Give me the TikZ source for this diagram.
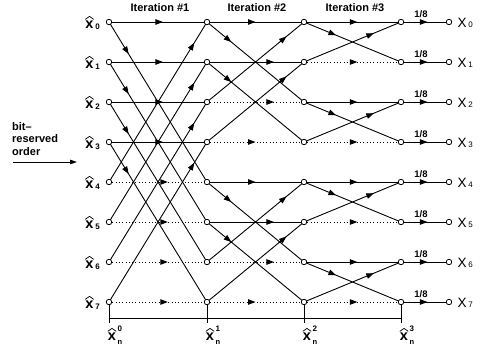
\documentclass[tikz,border=0pt]{standalone}
\usepackage{fontspec}
\setmainfont{Liberation Sans}
\setsansfont{Liberation Sans}
\usetikzlibrary{arrows.meta,decorations.markings}
\begin{document}
\begin{tikzpicture}[x=1pt,y=-1pt,
  pt/.style={circle,draw,fill=white,inner sep=0pt,minimum size=5.5pt,line width=0.8pt},
  wire/.style={line width=0.9pt},
  dwire/.style={line width=0.9pt,dash pattern=on 0.9pt off 2.4pt},
  arr/.style={postaction={decorate,decoration={markings,mark=at position #1 with {\arrow{Triangle[length=7.5pt,width=5.5pt]}}}}},
  lbl/.style={font=\bfseries\fontsize{11}{12.5}\selectfont,inner sep=0pt},
  frac/.style={font=\bfseries\fontsize{9.5}{11}\selectfont,inner sep=0pt},
  xl/.style={font=\bfseries\fontsize{14.5}{16}\selectfont,inner sep=0pt},
  sl/.style={font=\bfseries\fontsize{8}{9}\selectfont,inner sep=0pt},
  outl/.style={font=\fontsize{13.5}{16}\selectfont,inner sep=0pt},
  hat/.style={line width=0.7pt}
]
\useasboundingbox (0,0) rectangle (485,351);
% positions
\foreach \c/\x in {0/109,1/207,2/304,3/401,4/449}
  \foreach \r in {0,...,7}
    \coordinate (p\c\r) at (\x,22+40*\r);
% stage 1
\foreach \r [evaluate=\r as \s using int(\r+4)] in {0,...,3} {
  \draw[wire,arr=0.55] (p0\r) -- (p1\r);
  \draw[wire,arr=0.2] (p0\r) -- (p1\s);
  \draw[dwire,arr=0.6] (p0\s) -- (p1\s);
  \draw[wire,arr=0.87] (p0\s) -- (p1\r);
}
% stage 2
\foreach \b in {0,4} {
  \foreach \k/\ta/\tb [evaluate=\k as \r using int(\b+\k), evaluate=\k as \s using int(\b+\k+2)] in {0/0.5/0.69,1/0.69/0.5} {
    \draw[wire,arr=\ta] (p1\r) -- (p2\r);
    \draw[wire,arr=0.25] (p1\r) -- (p2\s);
    \draw[dwire,arr=\tb] (p1\s) -- (p2\s);
    \draw[wire,arr=0.82] (p1\s) -- (p2\r);
  }
}
% stage 3
\foreach \r [evaluate=\r as \s using int(\r+1)] in {0,2,4,6} {
  \draw[wire,arr=0.55] (p2\r) -- (p3\r);
  \draw[wire,arr=0.33] (p2\r) -- (p3\s);
  \draw[dwire,arr=0.55] (p2\s) -- (p3\s);
  \draw[wire,arr=0.72] (p2\s) -- (p3\r);
}
% output
\foreach \r in {0,...,7} {
  \draw[wire,arr=0.55] (p3\r) -- (p4\r);
  \node[frac] (w\r) at (421,14+40*\r) {1/8};
}
% circles
\foreach \c in {0,...,4}
  \foreach \r in {0,...,7}
    \node[pt] (n\c\r) at (p\c\r) {};
% input and output labels
\foreach \r in {0,...,7} {
  \node[xl] (hx\r) at (89.5,25+40*\r) {x};
  \draw[hat] ([yshift=1.6pt]hx\r.north west) -- ([yshift=4.6pt]hx\r.north) -- ([yshift=1.6pt]hx\r.north east);
  \node[sl,anchor=base west] (hs\r) at ([xshift=1.5pt,yshift=-0.5pt]hx\r.base east) {\r};
  \node[outl] (ox\r) at (462,22.5+40*\r) {X};
  \node[sl,anchor=base west,font=\fontsize{8}{9}\selectfont] (os\r) at ([xshift=1.5pt,yshift=-0.5pt]ox\r.base east) {\r};
}
\node[lbl] (it1) at (160,8) {Iteration \#1};
\node[lbl] (it2) at (257,8) {Iteration \#2};
\node[lbl] (it3) at (355,8) {Iteration \#3};
\node[lbl,align=left,anchor=north west] (brt) at (12,122) {bit–\\reserved\\order};
\coordinate (a1) at (13,162);
\coordinate (a2) at (77,162);
\draw[line width=0.8pt,-{Triangle[length=7pt,width=4.5pt]}] (a1) -- (a2);
% bottom axis
\foreach \c/\x in {0/109,1/207,2/304,3/401} {
  \coordinate (t\c) at (\x,323);
  \draw[wire] (n\c7) -- (t\c);
  \node[xl] (bx\c) at (\x+3,337) {x};
  \draw[hat] ([yshift=1.6pt]bx\c.north west) -- ([yshift=4.6pt]bx\c.north) -- ([yshift=1.6pt]bx\c.north east);
  \node[sl,anchor=south west] (bs\c) at ([xshift=1.2pt,yshift=1pt]bx\c.north east) {\c};
  \node[sl,anchor=north west,font=\bfseries\fontsize{7.5}{9}\selectfont] (bn\c) at ([xshift=1.2pt,yshift=1pt]bx\c.south east) {n};
}
\coordinate (ax0) at (109,318);
\coordinate (ax3) at (401,318);
\draw[wire] (ax0) -- (ax3);
\end{tikzpicture}
\end{document}
